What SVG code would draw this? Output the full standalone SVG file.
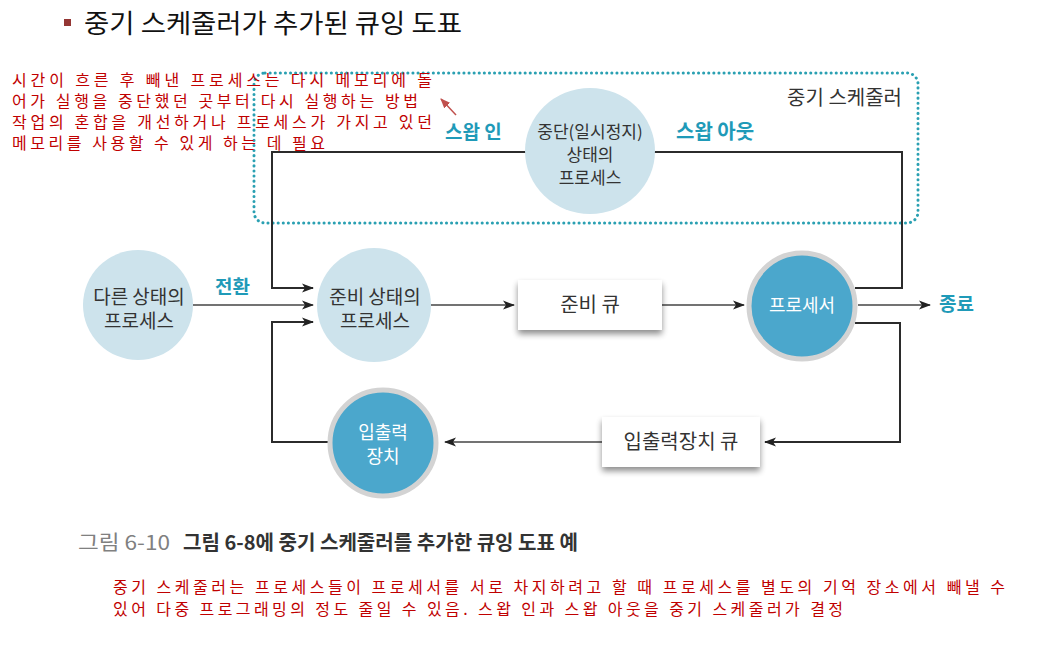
<svg xmlns="http://www.w3.org/2000/svg" width="1049" height="665" viewBox="0 0 1049 665">
<style>
text{font-family:"Noto Sans CJK KR","Noto Sans",sans-serif}
.red{fill:#c00000;font-size:16px}
.lbl{fill:#333;font-size:19px;text-anchor:middle}
.wlbl{fill:#fff;font-size:18px;text-anchor:middle}
.teal{fill:#1f9ab8;font-size:19px;font-weight:bold}
.ln{fill:none;stroke:#2b2b2b;stroke-width:2}
.fl{fill:none;stroke:#444;stroke-width:1.6}
.light{fill:#cde3ec}
.blue{fill:#4ba7cc;stroke:#d3d3d3;stroke-width:5}
.box{fill:#fff}
</style>
<defs>
<marker id="ah" markerWidth="12" markerHeight="10" refX="11" refY="5" orient="auto" markerUnits="userSpaceOnUse">
<path d="M0,0.5 L12,5 L0,9.5 L3,5 z" fill="#222"/>
</marker>
<marker id="rah" markerWidth="10" markerHeight="8" refX="9" refY="4" orient="auto" markerUnits="userSpaceOnUse">
<path d="M0,0 L10,4 L0,8 z" fill="#c0504d"/>
</marker>
<filter id="sh" x="-20%" y="-30%" width="140%" height="170%">
<feGaussianBlur in="SourceAlpha" stdDeviation="3"/>
<feOffset dx="0" dy="4" result="b"/>
<feComponentTransfer><feFuncA type="linear" slope="0.45"/></feComponentTransfer>
<feMerge><feMergeNode/><feMergeNode in="SourceGraphic"/></feMerge>
</filter>
</defs>

<g id="title">
<rect x="64" y="19" width="7" height="7" fill="#943634"/>
<text x="84" y="33" textLength="378" lengthAdjust="spacingAndGlyphs" style="font-size:26px;fill:#111">중기 스케줄러가 추가된 큐잉 도표</text>
</g>

<g id="scheduler-box">
<rect x="254" y="73" width="664" height="150" rx="11" fill="none" stroke="#2aa0b2" stroke-width="3" stroke-dasharray="0.1 5" stroke-linecap="round"/>
<text x="902" y="105" style="font-size:20px;fill:#333;text-anchor:end">중기 스케줄러</text>
</g>

<g id="connectors">
<path class="ln" d="M313,288 H272 V152 H902 V288 H855"/>
<path class="ln" d="M272,288 H313" marker-end="url(#ah)"/>
<path class="ln" d="M855,323 H900 V442 H765" marker-end="url(#ah)"/>
<path class="ln" d="M328,442 H272 V322 H313" marker-end="url(#ah)"/>
<path class="fl" d="M193,305 H313" marker-end="url(#ah)"/>
<path class="fl" d="M431,305 H514" marker-end="url(#ah)"/>
<path class="fl" d="M662,305 H744" marker-end="url(#ah)"/>
<path class="fl" d="M858,305 H930" marker-end="url(#ah)"/>
<path class="fl" d="M602,442 H445" marker-end="url(#ah)"/>
<text class="teal" x="215" y="294">전환</text>
<text class="teal" x="445" y="139">스왑 인</text>
<text class="teal" x="676" y="139" style="font-size:20px">스왑 아웃</text>
<text class="teal" x="939" y="311">종료</text>
</g>

<g id="suspended">
<ellipse class="light" cx="590" cy="151" rx="65" ry="63"/>
<text class="lbl" x="590" y="138" style="font-size:17px">중단(일시정지)</text>
<text class="lbl" x="590" y="161" style="font-size:17px">상태의</text>
<text class="lbl" x="590" y="184" style="font-size:17px">프로세스</text>
</g>

<g id="other-state">
<circle class="light" cx="138" cy="305" r="55"/>
<text class="lbl" x="139" y="304">다른 상태의</text>
<text class="lbl" x="139" y="328">프로세스</text>
</g>

<g id="ready-state">
<circle class="light" cx="374" cy="305" r="57"/>
<text class="lbl" x="375" y="304">준비 상태의</text>
<text class="lbl" x="375" y="328">프로세스</text>
</g>

<g id="ready-queue">
<rect class="box" x="518" y="280" width="144" height="50" filter="url(#sh)"/>
<text class="lbl" x="590" y="312" style="font-size:20px">준비 큐</text>
</g>

<g id="processor">
<circle class="blue" cx="802" cy="306" r="53"/>
<text class="wlbl" x="802" y="312">프로세서</text>
</g>

<g id="io-queue">
<rect class="box" x="602" y="417" width="158" height="50" filter="url(#sh)"/>
<text class="lbl" x="681" y="449" style="font-size:20px">입출력장치 큐</text>
</g>

<g id="io-device">
<circle class="blue" cx="383" cy="443" r="53"/>
<text class="wlbl" x="383" y="439">입출력</text>
<text class="wlbl" x="383" y="463">장치</text>
</g>

<g id="caption">
<text x="78" y="550" textLength="92" lengthAdjust="spacingAndGlyphs" style="font-size:20px;fill:#808080">그림 6-10</text>
<text x="183" y="550" textLength="395" lengthAdjust="spacingAndGlyphs" style="font-size:20px;fill:#333;font-weight:bold">그림 6-8에 중기 스케줄러를 추가한 큐잉 도표 예</text>
</g>

<g id="note-top">
<text class="red" x="12" y="86" textLength="420" lengthAdjust="spacing">시간이 흐른 후 빼낸 프로세스는 다시 메모리에 돌</text>
<text class="red" x="12" y="107" textLength="406" lengthAdjust="spacing">어가 실행을 중단했던 곳부터 다시 실행하는 방법</text>
<text class="red" x="12" y="128" textLength="420" lengthAdjust="spacing">작업의 혼합을 개선하거나 프로세스가 가지고 있던</text>
<text class="red" x="12" y="149" textLength="313" lengthAdjust="spacing">메모리를 사용할 수 있게 하는 데 필요</text>
<line x1="456" y1="115" x2="441" y2="99" stroke="#c0504d" stroke-width="1.5" marker-end="url(#rah)"/>
</g>

<g id="note-bottom">
<text class="red" x="113" y="593" textLength="892" lengthAdjust="spacing">중기 스케줄러는 프로세스들이 프로세서를 서로 차지하려고 할 때 프로세스를 별도의 기억 장소에서 빼낼 수</text>
<text class="red" x="113" y="615" textLength="730" lengthAdjust="spacing">있어 다중 프로그래밍의 정도 줄일 수 있음. 스왑 인과 스왑 아웃을 중기 스케줄러가 결정</text>
</g>
</svg>
